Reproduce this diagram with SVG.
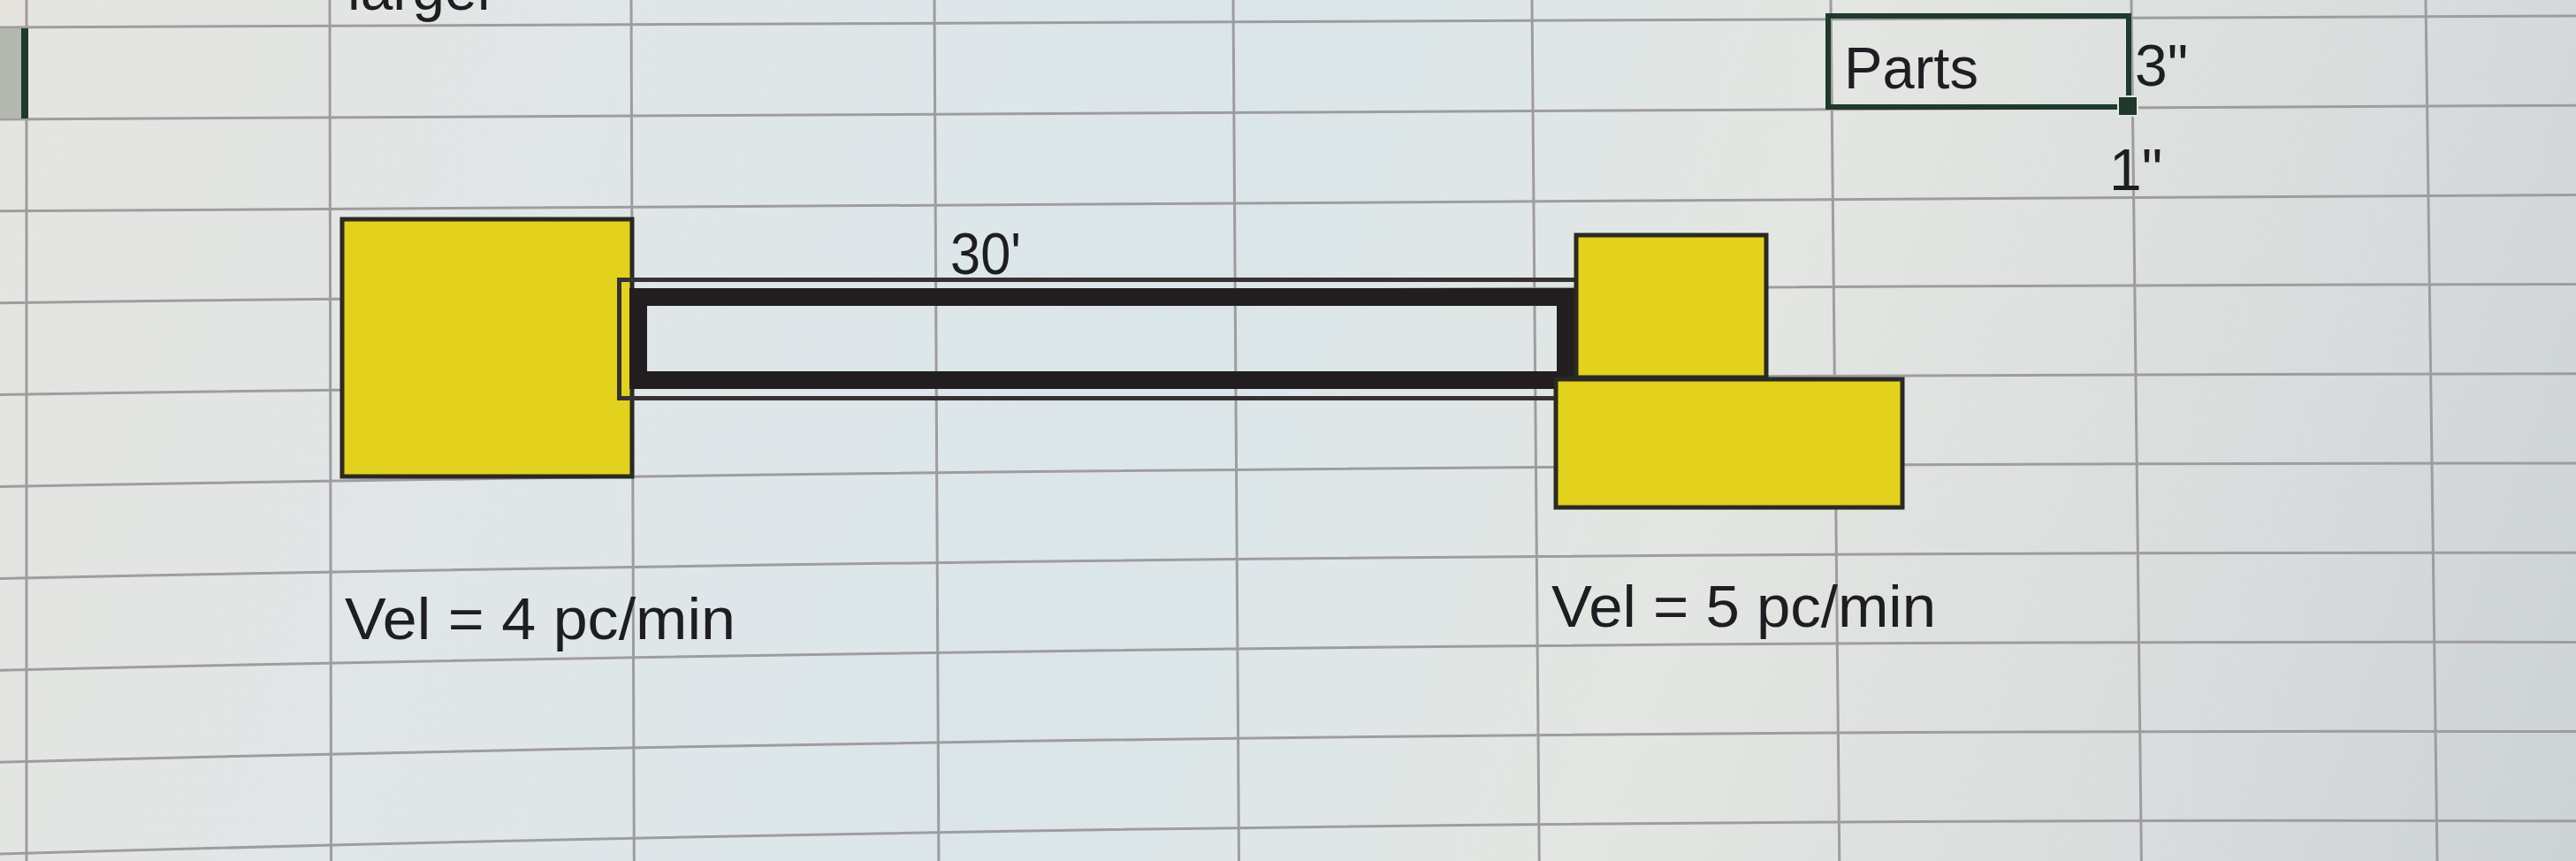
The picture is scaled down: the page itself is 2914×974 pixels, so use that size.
<svg xmlns="http://www.w3.org/2000/svg" width="2914" height="974" viewBox="0 0 2914 974">
  <defs>
    <linearGradient id="bg" x1="0" y1="0" x2="2914" y2="974" gradientUnits="userSpaceOnUse">
      <stop offset="0" stop-color="#e5e4df"/>
      <stop offset="0.25" stop-color="#e0e6e8"/>
      <stop offset="0.45" stop-color="#dbe6ea"/>
      <stop offset="0.65" stop-color="#e3e6e2"/>
      <stop offset="0.85" stop-color="#d8dcdc"/>
      <stop offset="1" stop-color="#cdd2d3"/>
    </linearGradient>
    <style>
      .grid { fill: none; stroke: #9f9c9f; stroke-width: 3; }
      .station { fill: #e2d11d; stroke: #2b2a22; stroke-width: 5; }
      .lbl { font-family: "Liberation Sans", Arial, sans-serif; font-size: 66px; fill: #1d1d22; }
    </style>
  </defs>

  <rect x="0" y="0" width="2914" height="974" fill="url(#bg)"/>

  <g id="grid">
    <path class="grid" d="M0 31 Q1457 24.5 2914 18"/>
    <path class="grid" d="M0 134.9 Q1457 124.45 2914 119.2"/>
    <path class="grid" d="M0 238.8 Q1457 224.4 2914 220.4"/>
    <path class="grid" d="M0 342.7 Q1457 324.35 2914 321.6"/>
    <path class="grid" d="M0 446.6 Q1457 424.3 2914 422.8"/>
    <path class="grid" d="M0 550.5 Q1457 524.25 2914 524"/>
    <path class="grid" d="M0 654.4 Q1457 624.2 2914 625.2"/>
    <path class="grid" d="M0 758.3 Q1457 724.15 2914 726.4"/>
    <path class="grid" d="M0 862.2 Q1457 824.1 2914 827.6"/>
    <path class="grid" d="M0 966.1 Q1457 924.05 2914 928.8"/>
    <line class="grid" x1="30" y1="0" x2="30" y2="974" stroke-width="4"/>
    <line class="grid" x1="373" y1="0" x2="374.6" y2="974"/>
    <line class="grid" x1="714" y1="0" x2="717.3" y2="974"/>
    <line class="grid" x1="1057" y1="0" x2="1061.9" y2="974"/>
    <line class="grid" x1="1395" y1="0" x2="1401.5" y2="974"/>
    <line class="grid" x1="1733" y1="0" x2="1741.2" y2="974"/>
    <line class="grid" x1="2071" y1="0" x2="2080.8" y2="974"/>
    <line class="grid" x1="2411" y1="0" x2="2422.4" y2="974"/>
    <line class="grid" x1="2744" y1="0" x2="2757" y2="974"/>
  </g>

  <g id="row-header">
    <rect x="0" y="32" width="28" height="102" fill="#b4b7b0"/>
    <rect x="24" y="32" width="8" height="102" fill="#1f3a2c"/>
  </g>

  <text class="lbl" x="393" y="11">larger</text>

  <g id="source-station">
    <rect class="station" x="387" y="248" width="328" height="291"/>
  </g>

  <g id="connectors">
    <g id="conveyor">
      <rect x="700.5" y="316.5" width="1090" height="134" fill="none" stroke="#363132" stroke-width="5"/>
      <rect x="722" y="336" width="1049" height="94" fill="none" stroke="#221e1f" stroke-width="20"/>
    </g>
  </g>

  <g id="dest-station-upper">
    <rect class="station" x="1783" y="266" width="215" height="161"/>
  </g>
  <g id="dest-station-lower">
    <rect class="station" x="1760" y="429" width="392" height="145"/>
  </g>

  <g id="parts-box">
    <rect x="2068" y="18" width="340" height="103" fill="none" stroke="#1f3a2d" stroke-width="6"/>
    <rect x="2396" y="109" width="22" height="22" fill="#1f3a2d" stroke="#e3e6e3" stroke-width="2"/>
    <text class="lbl" x="2086" y="100" textLength="152" lengthAdjust="spacingAndGlyphs">Parts</text>
  </g>

  <g id="labels">
    <text class="lbl" x="1075" y="310" textLength="80" lengthAdjust="spacingAndGlyphs">30'</text>
    <text class="lbl" x="2415" y="97">3"</text>
    <text class="lbl" x="2386" y="215">1"</text>
    <text class="lbl" x="390" y="723" textLength="442" lengthAdjust="spacingAndGlyphs">Vel = 4 pc/min</text>
    <text class="lbl" x="1755" y="709" textLength="435" lengthAdjust="spacingAndGlyphs">Vel = 5 pc/min</text>
  </g>
</svg>
